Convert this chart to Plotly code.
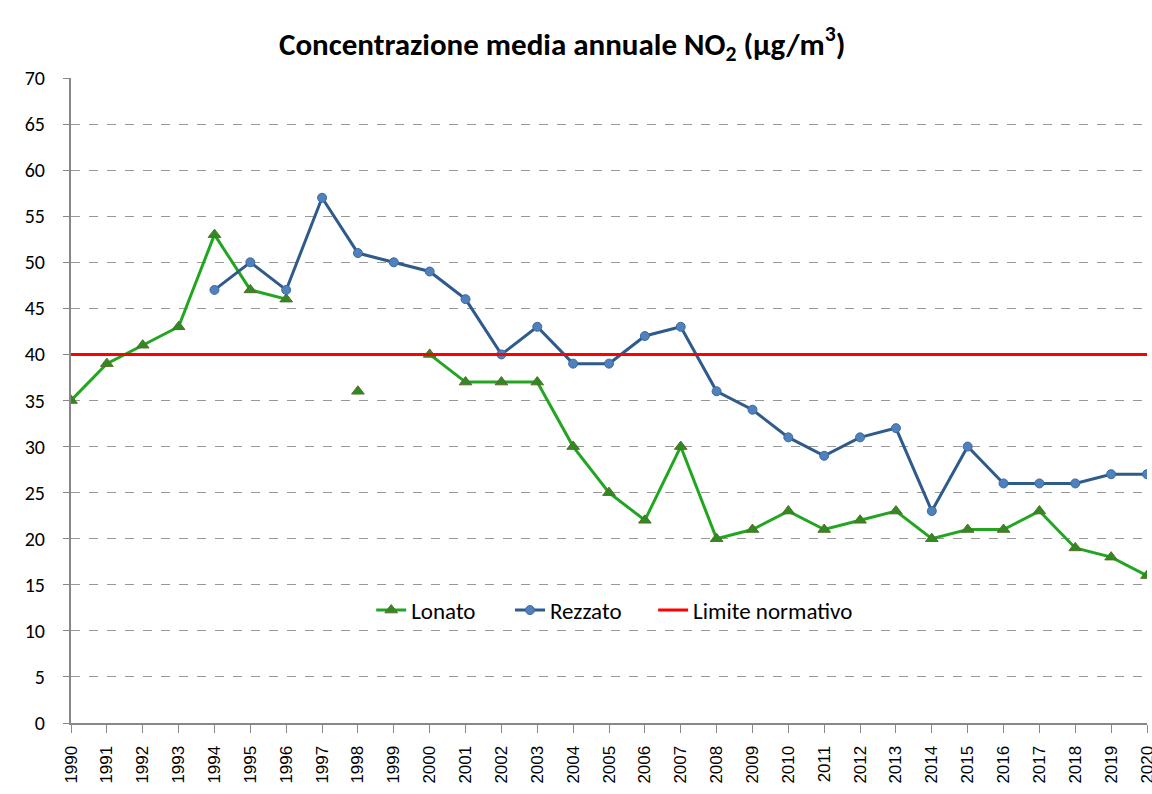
import plotly.graph_objects as go

years = [str(y) for y in range(1990, 2021)]
lonato = [35, 39, 41, 43, 53, 47, 46, None, 36, None, 40, 37, 37, 37, 30, 25, 22, 30,
          20, 21, 23, 21, 22, 23, 20, 21, 21, 23, 19, 18, 16]
rezzato = [None, None, None, None, 47, 50, 47, 57, 51, 50, 49, 46, 40, 43, 39, 39, 42, 43,
           36, 34, 31, 29, 31, 32, 23, 30, 26, 26, 26, 27, 27]
limite = [40] * len(years)

font_family = "Carlito, Lato, 'Open Sans', sans-serif"

fig = go.Figure()
fig.add_trace(go.Scatter(
    x=years, y=lonato, name="Lonato", mode="lines+markers",
    line=dict(color="#22A622", width=3),
    marker=dict(symbol="triangle-up", size=11, color="#2E8B22",
                line=dict(color="#5A6B2A", width=1)),
    connectgaps=False, legend="legend",
))
fig.add_trace(go.Scatter(
    x=years, y=rezzato, name="Rezzato", mode="lines+markers",
    line=dict(color="#2F5B8C", width=3),
    marker=dict(symbol="circle", size=9, color="#4F81BD",
                line=dict(color="#3D6AA0", width=1)),
    legend="legend2",
))
fig.add_trace(go.Scatter(
    x=years, y=limite, name="Limite normativo", mode="lines",
    line=dict(color="#FF0000", width=3),
    legend="legend3",
))

legend_style = dict(
    orientation="h", xanchor="left", y=0.175, yanchor="middle",
    bgcolor="rgba(0,0,0,0)", font=dict(size=23), itemwidth=30,
)

fig.update_layout(
    width=1152, height=794,
    margin=dict(l=71, r=5, t=78, b=71),
    paper_bgcolor="white", plot_bgcolor="white",
    font=dict(family=font_family, size=16, color="#000000"),
    title=dict(
        text="<b>Concentrazione media annuale NO<sub>2</sub> (µg/m<sup>3</sup>)</b>",
        x=0.488, xanchor="center", y=0.945, yanchor="middle",
        font=dict(size=31, family=font_family),
    ),
    legend=dict(x=0.279, **legend_style),
    legend2=dict(x=0.408, **legend_style),
    legend3=dict(x=0.541, **legend_style),
    showlegend=True,
)
fig.update_xaxes(
    type="category", range=[0, 30], automargin=False,
    showline=True, linecolor="#888888", linewidth=2,
    ticks="outside", ticklen=8, tickcolor="#888888",
    minor=dict(ticks="outside", ticklen=6, tickcolor="#888888"),
    tickangle=-90, tickfont=dict(size=17, family="Liberation Sans"),
    ticklabelstandoff=6,
    showgrid=False, zeroline=False,
)
fig.update_yaxes(
    range=[0, 70], dtick=5, automargin=False,
    showline=True, linecolor="#888888", linewidth=2,
    ticks="outside", ticklen=6, tickcolor="#888888",
    tickfont=dict(size=20),
    ticklabelstandoff=14,
    showgrid=True, gridcolor="#999999", griddash="dash", gridwidth=1,
    zeroline=False,
)

fig.write_html("out.html")
